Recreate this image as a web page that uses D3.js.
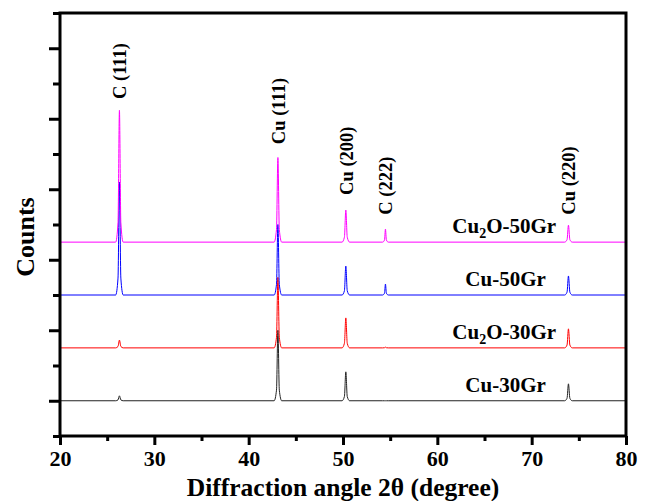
<!DOCTYPE html>
<html>
<head>
<meta charset="utf-8">
<script src="https://cdn.jsdelivr.net/npm/d3@7"></script>
<style>
  body { margin: 0; background: #fff; }
  text { font-family: "Liberation Serif", "Times New Roman", serif; font-weight: bold; }
</style>
</head>
<body>
<div id="canvas"></div>
<script>
// shared 2theta sample points (baseline + each peak outline)
var angles = [20,
  25.9, 26.15, 26.3, 26.45, 26.7,
  42.7, 42.95, 43.1, 43.25, 43.5,
  49.9, 50.15, 50.3, 50.45, 50.7,
  54.2, 54.4, 54.5, 54.6, 54.8,
  73.5, 73.75, 73.9, 74.05, 74.3,
  80];

// stacked intensities (offset already included)
var cu30 = [0,
  0, 12, 70, 12, 0,
  0, 150, 1000, 150, 0,
  0, 60, 410, 60, 0,
  0, 0, 0, 0, 0,
  0, 35, 240, 35, 0,
  0];
var cu2o30 = [750,
  750, 770, 860, 770, 750,
  750, 900, 1750, 900, 750,
  750, 815, 1175, 815, 750,
  750, 752, 760, 752, 750,
  750, 790, 1020, 790, 750,
  750];
var cu50 = [1500,
  1500, 1740, 3100, 1740, 1500,
  1500, 1650, 2500, 1650, 1500,
  1500, 1560, 1910, 1560, 1500,
  1500, 1525, 1655, 1525, 1500,
  1500, 1540, 1770, 1540, 1500,
  1500];
var cu2o50 = [2250,
  2250, 2530, 4120, 2530, 2250,
  2250, 2430, 3450, 2430, 2250,
  2250, 2320, 2705, 2320, 2250,
  2250, 2280, 2435, 2280, 2250,
  2250, 2285, 2490, 2285, 2250,
  2250];

var seriesNames = ["Cu-30Gr", "Cu2O-30Gr", "Cu-50Gr", "Cu2O-50Gr"];
var seriesValues = [cu30, cu2o30, cu50, cu2o50];
var seriesBase = [0, 750, 1500, 2250];
var seriesColors = ["#222222", "#ff0000", "#0000ff", "#ff00ff"];

var peakLabels = ["C (111)", "Cu (111)", "Cu (200)", "C (222)", "Cu (220)"];
var peakAngles = [26.3, 43.1, 50.3, 54.5, 73.9];
var peakLabelCounts = [4280, 3640, 2920, 2640, 2640];

var xTicks = [20, 30, 40, 50, 60, 70, 80];

var W = 645, H = 501;
var m = {t: 13, r: 19, b: 65, l: 60};

var svg = d3.select('#canvas')
    .append('svg')
    .attr('width', W)
    .attr('height', H);

var x = d3.scaleLinear().domain([20, 80]).range([m.l, W - m.r]);
var y = d3.scaleLinear().domain([-500, 5500]).range([H - m.b, m.t]);

//lines
var line = d3.line()
    .x(function(d){ return x(d[0]); })
    .y(function(d){ return y(d[1]); })
    .curve(d3.curveMonotoneX);

seriesValues.forEach(function(vals, i){
    svg.append('path')
        .datum(angles.map(function(a, j){ return [a, vals[j]]; }))
        .attr('d', line)
        .style('fill', 'none')
        .style('stroke', seriesColors[i])
        .style('stroke-width', 1);
});

//axes: major + minor
var xMajor = d3.axisBottom(x).tickValues(xTicks).tickSize(9).tickPadding(5).tickFormat(d3.format('d'));
var xMinor = d3.axisBottom(x).tickValues(d3.range(25, 80, 10)).tickSize(5).tickFormat('');
var yMajor = d3.axisLeft(y).tickValues(d3.range(0, 5001, 1000)).tickSize(11).tickFormat('');
var yMinor = d3.axisLeft(y).tickValues(d3.range(-500, 5501, 1000)).tickSize(7).tickFormat('');

[xMajor, xMinor].forEach(function(ax){
    svg.append('g').attr('class', 'axis')
        .attr('transform', 'translate(0,' + (H - m.b) + ')')
        .call(ax);
});
[yMajor, yMinor].forEach(function(ax){
    svg.append('g').attr('class', 'axis')
        .attr('transform', 'translate(' + m.l + ',0)')
        .call(ax);
});
svg.selectAll('.axis .domain').remove();
svg.selectAll('.axis line').style('stroke', '#000').style('stroke-width', 3);
svg.selectAll('.axis text')
    .style('font-size', '22px')
    .style('font-family', '"Liberation Serif", serif')
    .style('font-weight', 'bold')
    .style('fill', '#000');

//frame
svg.append('rect')
    .attr('x', m.l).attr('y', m.t)
    .attr('width', W - m.r - m.l).attr('height', H - m.b - m.t)
    .style('fill', 'none')
    .style('stroke', '#000')
    .style('stroke-width', 3);

//peak labels (vertical)
peakLabels.forEach(function(lab, i){
    svg.append('text')
        .attr('transform', 'translate(' + (x(peakAngles[i]) + 7) + ',' + y(peakLabelCounts[i]) + ') rotate(-90)')
        .style('font-size', '18.5px')
        .text(lab);
});

//series labels
seriesNames.forEach(function(name, i){
    var t = svg.append('text')
        .attr('x', x(name.indexOf('Cu2O') === 0 ? 72.6 : 71.5))
        .attr('y', y(seriesBase[i]) - 9)
        .attr('text-anchor', 'end')
        .style('font-size', '21px');
    if (name.indexOf('Cu2O') === 0) {
        t.append('tspan').text('Cu');
        t.append('tspan').attr('dy', 5).style('font-size', '14px').text('2');
        t.append('tspan').attr('dy', -5).text(name.slice(3));
    } else {
        t.text(name);
    }
});

//axis titles
svg.append('text')
    .attr('x', (m.l + W - m.r) / 2)
    .attr('y', H - 5)
    .attr('text-anchor', 'middle')
    .style('font-size', '25.5px')
    .text('Diffraction angle 2\u03b8 (degree)');

svg.append('text')
    .attr('transform', 'translate(34,' + 237 + ') rotate(-90)')
    .attr('text-anchor', 'middle')
    .style('font-size', '26px')
    .text('Counts');
</script>
</body>
</html>
